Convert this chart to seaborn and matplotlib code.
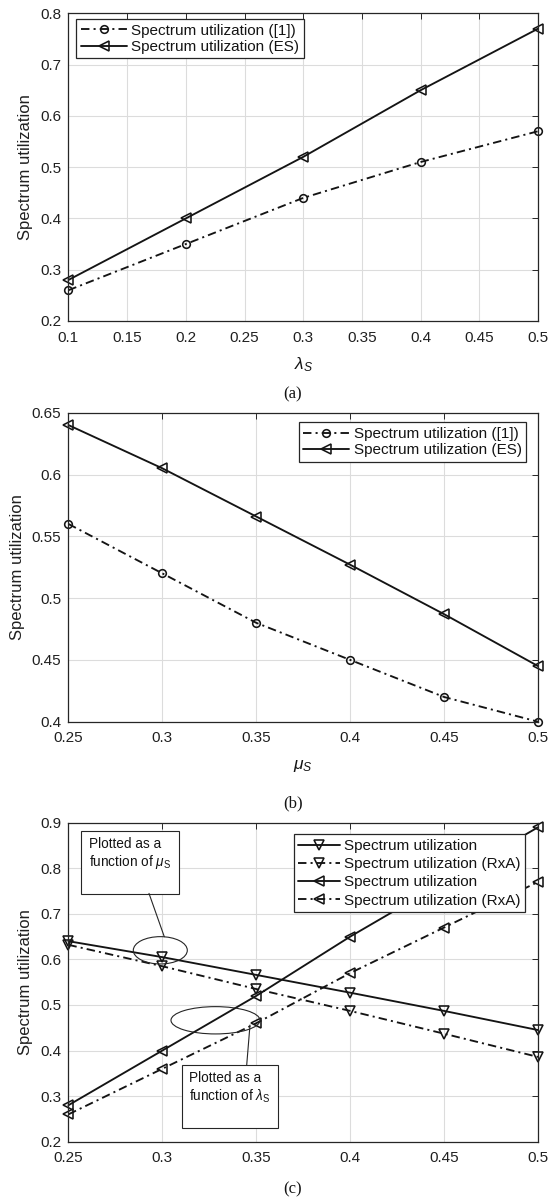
import matplotlib
matplotlib.use("Agg")
import matplotlib.pyplot as plt
from matplotlib.patches import Ellipse, Rectangle
from matplotlib.ticker import FixedLocator, FuncFormatter
import seaborn as sns

# ---- (a) spectrum utilization versus the secondary arrival rate ----
lam_s = [0.1, 0.2, 0.3, 0.4, 0.5]
util_ref_lam = [0.26, 0.35, 0.44, 0.51, 0.57]
util_es_lam = [0.28, 0.40, 0.52, 0.65, 0.77]
ticks_x_a = [0.1, 0.15, 0.2, 0.25, 0.3, 0.35, 0.4, 0.45, 0.5]
ticks_y_a = [0.2, 0.3, 0.4, 0.5, 0.6, 0.7, 0.8]

# ---- (b) spectrum utilization versus the secondary service rate ----
mu_s = [0.25, 0.30, 0.35, 0.40, 0.45, 0.50]
util_ref_mu = [0.56, 0.52, 0.48, 0.45, 0.42, 0.40]
util_es_mu = [0.640, 0.605, 0.566, 0.527, 0.487, 0.445]
ticks_x_b = [0.25, 0.3, 0.35, 0.4, 0.45, 0.5]
ticks_y_b = [0.4, 0.45, 0.5, 0.55, 0.6, 0.65]

# ---- (c) exact vs. RxA, as functions of mu_S and lambda_S ----
x_c = [0.25, 0.30, 0.35, 0.40, 0.45, 0.50]
util_mu_exact = [0.640, 0.605, 0.566, 0.527, 0.487, 0.445]
util_mu_rxa = [0.632, 0.585, 0.535, 0.487, 0.437, 0.386]
util_lam_exact = [0.28, 0.40, 0.52, 0.65, 0.77, 0.89]
util_lam_rxa = [0.26, 0.36, 0.46, 0.57, 0.67, 0.77]
ticks_x_c = [0.25, 0.3, 0.35, 0.4, 0.45, 0.5]
ticks_y_c = [0.2, 0.3, 0.4, 0.5, 0.6, 0.7, 0.8, 0.9]

label_ref = "Spectrum utilization ([1])"
label_es = "Spectrum utilization (ES)"
label_exact = "Spectrum utilization"
label_rxa = "Spectrum utilization (RxA)"

sns.set_theme(style="white")
plt.rcParams["font.family"] = ["Liberation Sans", "DejaVu Sans"]
plt.rcParams["mathtext.fontset"] = "custom"
plt.rcParams["mathtext.rm"] = "Liberation Sans"
plt.rcParams["mathtext.it"] = "Liberation Sans:italic"
plt.rcParams["mathtext.bf"] = "Liberation Sans:bold"

INK = "#141414"
FRAME = "#262626"
GRID = "#dcdcdc"
DASHDOT = (0, (4.5, 2.2, 1.1, 2.2))

W, H = 550, 1197
fig = plt.figure(figsize=(W / 100, H / 100), dpi=100)
fig.patch.set_facecolor("white")


def px_axes(left, top, right, bottom):
    return fig.add_axes([left / W, 1 - bottom / H, (right - left) / W, (bottom - top) / H])


def draw_series(ax, x, y, marker, ls, label, ms):
    sns.lineplot(x=x, y=y, ax=ax, color=INK, linestyle=ls, linewidth=1.35,
                 marker=marker, markersize=ms, markerfacecolor="none",
                 markeredgecolor=INK, markeredgewidth=1.15, label=label,
                 estimator=None, sort=False, clip_on=False)


def style_axes(ax, xticks, yticks):
    ax.set_xlim(xticks[0], xticks[-1])
    ax.set_ylim(yticks[0], yticks[-1])
    ax.xaxis.set_major_locator(FixedLocator(xticks))
    ax.yaxis.set_major_locator(FixedLocator(yticks))
    fmt = FuncFormatter(lambda v, _: f"{v:g}")
    ax.xaxis.set_major_formatter(fmt)
    ax.yaxis.set_major_formatter(fmt)
    ax.grid(True, color=GRID, linewidth=0.8)
    ax.set_axisbelow(True)
    ax.tick_params(axis="both", direction="in", top=True, right=True,
                   length=4, width=0.7, color=FRAME, labelsize=11,
                   labelcolor="#202020")
    ax.tick_params(axis="x", pad=7)
    ax.tick_params(axis="y", pad=5)
    for sp in ax.spines.values():
        sp.set_visible(True)
        sp.set_color(FRAME)
        sp.set_linewidth(0.9)
    ax.set_ylabel("Spectrum utilization", fontsize=12, color="#202020", labelpad=5)


def style_legend(ax, loc, anchor, spacing, hlen):
    leg = ax.legend(loc=loc, bbox_to_anchor=anchor, borderaxespad=0,
                    fontsize=11, frameon=True, fancybox=False,
                    edgecolor=FRAME, framealpha=1, handlelength=hlen,
                    handletextpad=0.3, labelspacing=spacing, borderpad=0.3)
    leg.get_frame().set_linewidth(0.9)
    for t in leg.get_texts():
        t.set_color(INK)


def caption(y_px, s):
    fig.text(293 / W, 1 - y_px / H, s, ha="center", va="center",
             fontsize=12, family=["Liberation Serif", "DejaVu Serif"], color=INK)


# ---------------- panel (a) ----------------
ax_a = px_axes(68.4, 13.3, 538.0, 321.0)
draw_series(ax_a, lam_s, util_ref_lam, "o", DASHDOT, label_ref, 5.5)
draw_series(ax_a, lam_s, util_es_lam, "<", "-", label_es, 6.5)
style_axes(ax_a, ticks_x_a, ticks_y_a)
ax_a.set_xlabel(r"$\lambda_S$", fontsize=12.5, color=INK)
ax_a.xaxis.set_label_coords(0.5, -0.143)
ax_a.xaxis.label.set_va("center")
style_legend(ax_a, "upper left", (0.0172, 0.9815), 0.15, 3.0)
caption(394, "(a)")

# ---------------- panel (b) ----------------
ax_b = px_axes(68.4, 412.7, 538.0, 721.7)
draw_series(ax_b, mu_s, util_ref_mu, "o", DASHDOT, label_ref, 5.5)
draw_series(ax_b, mu_s, util_es_mu, "<", "-", label_es, 6.5)
style_axes(ax_b, ticks_x_b, ticks_y_b)
ax_b.set_xlabel(r"$\mu_S$", fontsize=12.5, color=INK)
ax_b.xaxis.set_label_coords(0.5, -0.143)
ax_b.xaxis.label.set_va("center")
style_legend(ax_b, "upper right", (0.975, 0.969), 0.15, 3.0)
caption(803.3, "(b)")

# ---------------- panel (c) ----------------
ax_c = px_axes(68.4, 822.7, 538.0, 1141.7)
draw_series(ax_c, x_c, util_mu_exact, "v", "-", label_exact, 6.5)
draw_series(ax_c, x_c, util_mu_rxa, "v", DASHDOT, label_rxa, 6.5)
draw_series(ax_c, x_c, util_lam_exact, "<", "-", label_exact, 6.5)
draw_series(ax_c, x_c, util_lam_rxa, "<", DASHDOT, label_rxa, 6.5)
style_axes(ax_c, ticks_x_c, ticks_y_c)
ax_c.set_xlabel("")
style_legend(ax_c, "upper right", (0.973, 0.9636), 0.28, 2.7)
caption(1189.7, "(c)")

# callout boxes, leader lines and ellipses grouping the curve pairs
tr = ax_c.transAxes
box_kw = dict(transform=tr, facecolor="white", edgecolor=FRAME, linewidth=0.8, zorder=6)
ax_c.add_patch(Rectangle((0.0273, 0.7755), 0.2082, 0.1985, **box_kw))
ax_c.add_patch(Rectangle((0.2425, 0.0420), 0.2043, 0.1984, **box_kw))

txt_kw = dict(transform=tr, fontsize=9.8, ha="left", va="center", color=INK, zorder=7)
ax_c.text(0.0445, 0.9323, "Plotted as a", **txt_kw)
ax_c.text(0.0445, 0.8777, r"function of $\mu_{\mathrm{S}}$", **txt_kw)
ax_c.text(0.2575, 0.1987, "Plotted as a", **txt_kw)
ax_c.text(0.2575, 0.1433, r"function of $\lambda_{\mathrm{S}}$", **txt_kw)

ax_c.plot([0.1716, 0.2042], [0.7784, 0.6426], transform=tr, color=FRAME,
          linewidth=0.8, zorder=6)
ax_c.plot([0.3867, 0.3797], [0.3658, 0.2404], transform=tr, color=FRAME,
          linewidth=0.8, zorder=6)

ell_kw = dict(transform=tr, facecolor="none", edgecolor=FRAME, linewidth=0.8, zorder=6)
ax_c.add_patch(Ellipse((0.1957, 0.600), 0.115, 0.0856, **ell_kw))
ax_c.add_patch(Ellipse((0.3132, 0.3806), 0.1895, 0.0856, **ell_kw))

fig.savefig("out.png", dpi=100, facecolor="white")
